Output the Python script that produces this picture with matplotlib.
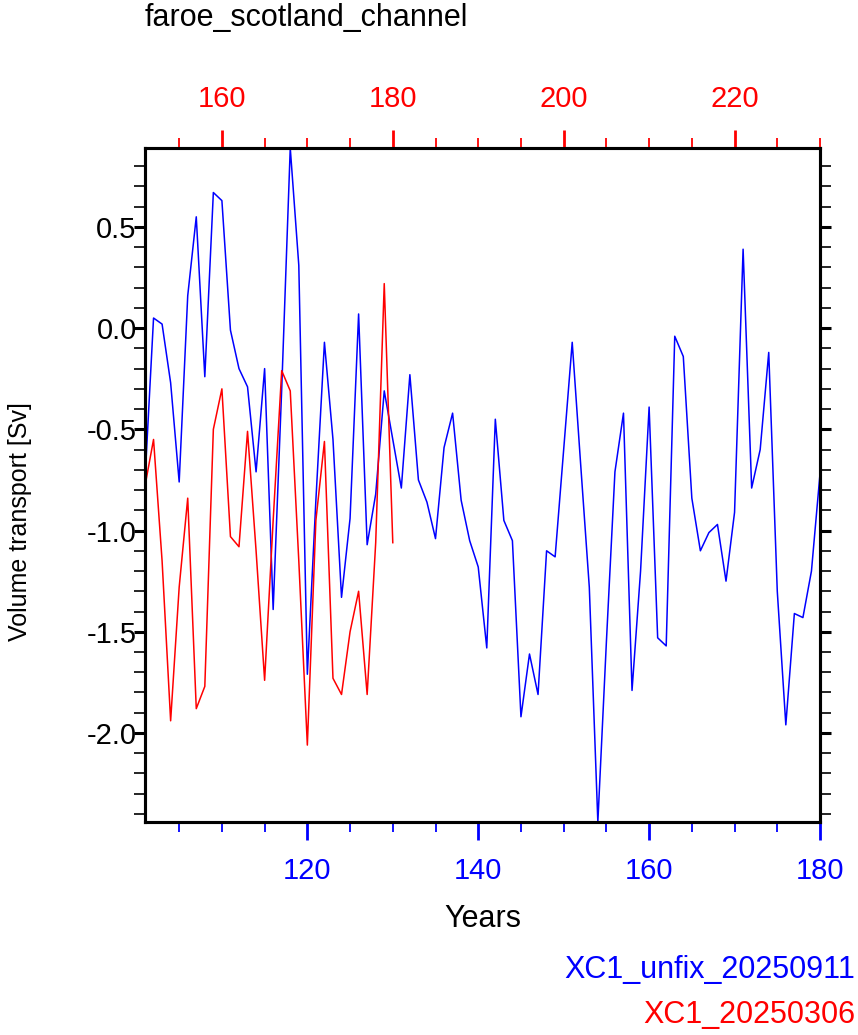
import numpy as np
import matplotlib
matplotlib.use("Agg")
import matplotlib.pyplot as plt
from matplotlib.ticker import MultipleLocator

plt.rcParams['font.family'] = ['Liberation Sans', 'DejaVu Sans']
plt.rcParams['axes.unicode_minus'] = False

# =========================== DATA =========================================
# blue run: model years 101..180 (bottom axis)
years_unfix = np.arange(101, 181)
vt_unfix = [
    -0.75, 0.05, 0.02, -0.27, -0.76, 0.16, 0.55, -0.24, 0.67, 0.63,
    -0.01, -0.20, -0.29, -0.71, -0.20, -1.39, -0.30, 0.89, 0.31, -1.71,
    -0.85, -0.07, -0.55, -1.33, -0.94, 0.07, -1.07, -0.82, -0.31, -0.55,
    -0.79, -0.23, -0.75, -0.86, -1.04, -0.59, -0.42, -0.85, -1.05, -1.18,
    -1.58, -0.45, -0.95, -1.05, -1.92, -1.61, -1.81, -1.10, -1.13, -0.60,
    -0.07, -0.68, -1.28, -2.44, -1.55, -0.71, -0.42, -1.79, -1.20, -0.39,
    -1.53, -1.57, -0.04, -0.14, -0.84, -1.10, -1.01, -0.97, -1.25, -0.91,
    0.39, -0.79, -0.60, -0.12, -1.30, -1.96, -1.41, -1.43, -1.20, -0.72,
]

# red run: model years 151..180 (top axis)
years_fix = np.arange(151, 181)
vt_fix = [
    -0.78, -0.55, -1.15, -1.94, -1.28, -0.84, -1.88, -1.77, -0.50, -0.30,
    -1.03, -1.08, -0.51, -1.10, -1.74, -0.95, -0.21, -0.31, -1.15, -2.06,
    -0.95, -0.56, -1.73, -1.81, -1.50, -1.30, -1.81, -1.06, 0.22, -1.06,
]

label_unfix = 'XC1_unfix_20250911'
label_fix = 'XC1_20250306'
title = 'faroe_scotland_channel'

# =========================== PLOT =========================================
W, H = 858, 1035
fig = plt.figure(figsize=(W / 100, H / 100), dpi=100)
ax = fig.add_axes([145 / W, 1 - 822 / H, 675 / W, 674 / H])

ax.plot(years_unfix, vt_unfix, color='blue', lw=1.1)
ax.set_xlim(years_unfix[0], years_unfix[-1])
allv = np.concatenate([vt_unfix, vt_fix])
ax.set_ylim(allv.min(), allv.max())

ax2 = ax.twiny()
ax2.plot(years_fix, vt_fix, color='red', lw=1.1)
ax2.set_xlim(years_unfix[0] + 50, years_unfix[-1] + 50)

for a in (ax, ax2):
    for s in a.spines.values():
        s.set_linewidth(2.2)

# bottom axis (blue)
ax.xaxis.set_major_locator(MultipleLocator(20))
ax.xaxis.set_minor_locator(MultipleLocator(5))
ax.tick_params(axis='x', which='both', direction='out', colors='blue',
               labelsize=21, pad=12)
ax.tick_params(axis='x', which='major', length=13, width=2)
ax.tick_params(axis='x', which='minor', length=7, width=1.3)

# y axis
ax.yaxis.set_major_locator(MultipleLocator(0.5))
ax.yaxis.set_minor_locator(MultipleLocator(0.1))
ax.yaxis.set_major_formatter(matplotlib.ticker.FormatStrFormatter('%.1f'))
ax.tick_params(axis='y', which='both', direction='out', right=True,
               labelsize=21, pad=-2)
ax.tick_params(axis='y', which='major', length=8, width=2.2)
ax.tick_params(axis='y', which='minor', length=8, width=1.2)

# top axis (red)
ax2.xaxis.set_major_locator(MultipleLocator(20))
ax2.xaxis.set_minor_locator(MultipleLocator(5))
ax2.tick_params(axis='x', which='both', direction='out', colors='red',
                labelsize=21, pad=12)
ax2.tick_params(axis='x', which='major', length=13, width=2)
ax2.tick_params(axis='x', which='minor', length=7, width=1.3)

ax.set_xlabel('Years', fontsize=22, labelpad=14)
fig.text(20 / W, 1 - 522 / H, 'Volume transport [Sv]', rotation=90,
         fontsize=18, ha='center', va='center')
fig.text(145 / W, 1 - 18 / H, title, fontsize=22, ha='left', va='center')

fig.text(855 / W, 1 - 970 / H, label_unfix, color='blue', fontsize=22,
         ha='right', va='center')
fig.text(855 / W, 1 - 1015 / H, label_fix, color='red', fontsize=22,
         ha='right', va='center')

fig.savefig('out.png', dpi=100)
